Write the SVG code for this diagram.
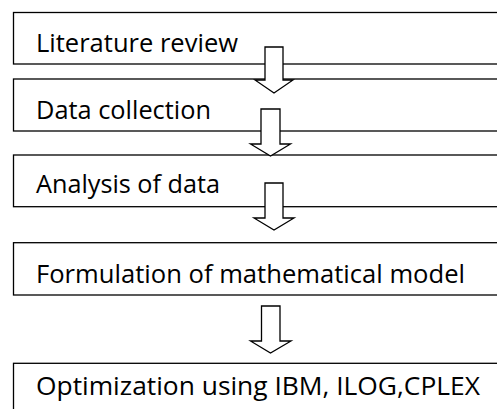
<svg xmlns="http://www.w3.org/2000/svg" width="497" height="409" viewBox="0 0 497 409">
  <style>
    .box { fill: #ffffff; stroke: #000000; stroke-width: 1.3; }
    .lbl { font-family: "Open Sans", "Noto Sans", "Liberation Sans", sans-serif; font-size: 26px; fill: #000000; }
    .arr { fill: #ffffff; stroke: #000000; stroke-width: 1.3; stroke-linejoin: miter; }
  </style>
  <rect width="497" height="409" fill="#ffffff"/>
  <g id="node-literature">
    <rect class="box" x="13.5" y="12.5" width="500" height="51.5"/>
    <text class="lbl" x="36" y="51.7" textLength="202" lengthAdjust="spacingAndGlyphs">Literature review</text>
  </g>
  <g id="node-data">
    <rect class="box" x="13.5" y="79" width="500" height="52"/>
    <text class="lbl" x="36" y="119" textLength="175" lengthAdjust="spacingAndGlyphs">Data collection</text>
  </g>
  <g id="node-analysis">
    <rect class="box" x="13.5" y="155" width="500" height="51.7"/>
    <text class="lbl" x="36" y="193.3" textLength="184" lengthAdjust="spacingAndGlyphs">Analysis of data</text>
  </g>
  <g id="node-formulation">
    <rect class="box" x="13.5" y="242.7" width="500" height="52.3"/>
    <text class="lbl" x="36" y="283.3" textLength="429" lengthAdjust="spacingAndGlyphs">Formulation of mathematical model</text>
  </g>
  <g id="node-optimization">
    <rect class="box" x="13.5" y="363.3" width="500" height="60"/>
    <text class="lbl" x="36" y="395" textLength="444" lengthAdjust="spacingAndGlyphs">Optimization using IBM, ILOG,CPLEX</text>
  </g>
  <g id="connectors">
    <polygon class="arr" points="265,47 283,47 283,80 293,80 274,93 255,80 265,80"/>
    <polygon class="arr" points="261,109 280,109 280,144 290.5,144 270.5,156 250.5,144 261,144"/>
    <polygon class="arr" points="265,183 283,183 283,218 294,218 274,230 254,218 265,218"/>
    <polygon class="arr" points="261.5,306 280,306 280,341 291,341 270.5,353 250.5,341 261.5,341"/>
  </g>
</svg>
